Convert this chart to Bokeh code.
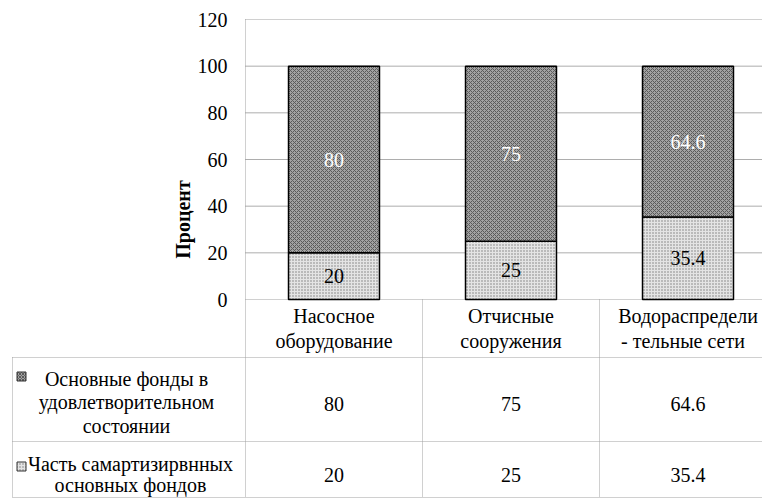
import numpy as np
from bokeh.plotting import figure
from bokeh.models import Range1d, FixedTicker, ColumnDataSource, LinearAxis
from bokeh.core.properties import value
from bokeh.embed import file_html
from bokeh.resources import INLINE

# ---------------- data ----------------
categories = ["Насосное оборудование", "Отчисные сооружения", "Водораспределительные сети"]
category_labels = ["Насосное\nоборудование", "Отчисные\nсооружения", "Водораспредели\n-   тельные сети"]
series_names = ["Основные фонды в\nудовлетворительном\nсостоянии",
                "Часть самартизирвнных\nосновных фондов"]
good = [80, 75, 64.6]      # Основные фонды в удовлетворительном состоянии
amort = [20, 25, 35.4]     # Часть самартизирвнных основных фондов
y_ticks = [0, 20, 40, 60, 80, 100, 120]
y_title = "Процент"

# ---------------- style / layout (pixels) ----------------
FONT = "Liberation Serif"
DARK_FILL = "#a2a2a2"
DARK_HATCH = "#5a5a5a"
LIGHT_FILL = "#e4e4e4"
LIGHT_HATCH = "#7a7a7a"
GRID_DARK = "#5a5a5a"
GRID_LIGHT = "#a0a0a0"

W, H = 762, 500
PLOT_LEFT = 245          # pixel x of plot-area left edge
CAT_PX = 177.0           # pixel width of one category
PLOT_TOP, PLOT_BOTTOM = 19, 299
YMAX = 120.0
PX_PER_Y = (PLOT_BOTTOM - PLOT_TOP) / YMAX


def xd(px):
    return (px - PLOT_LEFT) / CAT_PX


def yd(py):
    return (PLOT_BOTTOM - py) / PX_PER_Y


xc = np.arange(len(categories)) + 0.5
ncat = len(categories)
good_a = np.array(good, dtype=float)
amort_a = np.array(amort, dtype=float)

src = ColumnDataSource(dict(
    x=xc, good=good_a, amort=amort_a,
    good_mid=amort_a + good_a / 2.0,
    amort_mid=amort_a / 2.0,
    good_txt=[f"{v:g}" for v in good],
    amort_txt=[f"{v:g}" for v in amort],
))

p = figure(width=W, height=H, x_range=Range1d(xd(0), xd(W)), y_range=Range1d(yd(H), yd(0)),
           output_backend="svg", toolbar_location=None, x_axis_location=None, y_axis_location=None,
           min_border=0)
p.outline_line_color = None
p.background_fill_color = "white"
p.border_fill_color = "white"
p.xgrid.visible = False
p.ygrid.visible = False

# y axis placed at the plot-area left edge
ax = LinearAxis(fixed_location=0, ticker=FixedTicker(ticks=y_ticks))
ax.axis_line_color = None
ax.major_tick_line_color = None
ax.minor_tick_line_color = None
ax.major_tick_out = 0
ax.major_tick_in = 0
ax.major_label_standoff = 18
ax.major_label_text_font = FONT
ax.major_label_text_font_size = "20px"
ax.major_label_text_color = "black"
p.add_layout(ax, "left")

right_end = xd(W + 20)
# horizontal grid lines (inner ticks), plot border lines (outer ticks)
inner = y_ticks[1:-1]
p.segment(x0=[0] * len(inner), y0=inner, x1=[right_end] * len(inner), y1=inner,
          line_color=GRID_DARK, line_dash="1 1", line_width=1)
p.segment(x0=[0, 0], y0=[y_ticks[-1], y_ticks[0]], x1=[right_end, right_end],
          y1=[y_ticks[-1], y_ticks[0]], line_color=GRID_LIGHT, line_dash="1 1", line_width=1)

# stacked bars
p.vbar_stack(["amort", "good"], x="x", width=0.514, source=src,
             fill_color=[LIGHT_FILL, DARK_FILL],
             hatch_pattern=["dot", "diagonal_cross"],
             hatch_color=[LIGHT_HATCH, DARK_HATCH],
             hatch_scale=[3, 4], hatch_weight=[1, 1],
             line_color="black", line_width=1.5)

p.text(x="x", y="good_mid", text="good_txt", source=src, text_color="white",
       text_font=value(FONT), text_font_size="20px", text_align="center", text_baseline="middle")
p.text(x="x", y="amort_mid", text="amort_txt", source=src, text_color="black",
       text_font=value(FONT), text_font_size="20px", text_align="center", text_baseline="middle")

# axis title
p.text(x=[xd(182)], y=[yd(219)], text=[y_title], angle=np.pi / 2, text_color="black",
       text_font=value(FONT), text_font_size="20px", text_font_style="bold",
       text_align="center", text_baseline="middle")

# ---------------- data table ----------------
HEAD_BOTTOM, ROW1_BOTTOM, ROW2_BOTTOM = yd(357), yd(441), yd(497)
TABLE_LEFT = xd(12)
col_edges = list(np.arange(ncat + 1).astype(float))
vx = col_edges + [TABLE_LEFT]
vy0 = [YMAX] + [0.0] * ncat + [HEAD_BOTTOM]
vy1 = [ROW2_BOTTOM] * (ncat + 1) + [ROW2_BOTTOM]
p.segment(x0=vx, y0=vy0, x1=vx, y1=vy1, line_color=GRID_LIGHT, line_dash="1 1", line_width=1)
hy = [HEAD_BOTTOM, ROW1_BOTTOM, ROW2_BOTTOM]
p.segment(x0=[TABLE_LEFT] * 3, y0=hy, x1=[right_end] * 3, y1=hy,
          line_color=GRID_LIGHT, line_dash="1 1", line_width=1)

p.text(x=xc, y=[yd(328)] * ncat, text=category_labels, text_font=value(FONT), text_font_size="20px",
       text_align="center", text_baseline="middle", text_line_height=1.1, text_color="black")
p.text(x=xc, y=[yd(403)] * ncat, text=[f"{v:g}" for v in good], text_font=value(FONT),
       text_font_size="20px", text_align="center", text_baseline="middle", text_color="black")
p.text(x=xc, y=[yd(474)] * ncat, text=[f"{v:g}" for v in amort], text_font=value(FONT),
       text_font_size="20px", text_align="center", text_baseline="middle", text_color="black")

# legend column of the table
p.text(x=[xd(126)], y=[yd(402)], text=[series_names[0]], text_font=value(FONT),
       text_font_size="20px", text_align="center", text_baseline="middle", text_line_height=1.05,
       text_color="black")
p.text(x=[xd(130)], y=[yd(474)], text=[series_names[1]], text_font=value(FONT),
       text_font_size="20px", text_align="center", text_baseline="middle", text_line_height=0.95,
       text_color="black")
p.rect(x=[xd(21), xd(21)], y=[yd(376), yd(466)], width=9, height=9, width_units="screen",
       height_units="screen", fill_color=[DARK_FILL, LIGHT_FILL], hatch_pattern=["diagonal_cross", "dot"],
       hatch_color=[DARK_HATCH, LIGHT_HATCH], hatch_scale=3, line_color="#333333", line_width=1)

open("out.html", "w").write(file_html(p, INLINE))
